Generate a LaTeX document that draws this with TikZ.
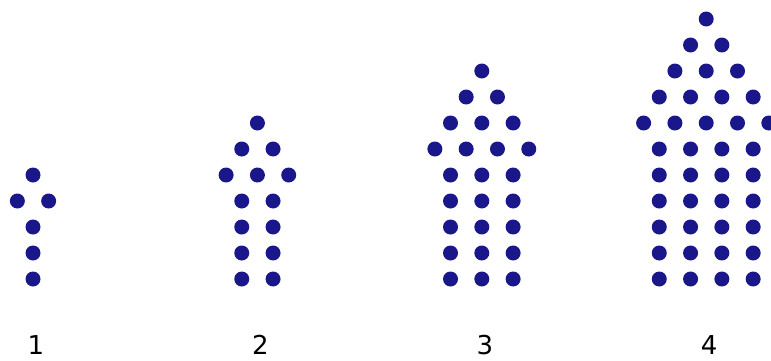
\documentclass[tikz,border=0pt]{standalone}
\usepackage{fontspec}
\setmainfont{DejaVu Sans}
\usetikzlibrary{calc}
\definecolor{dotNavy}{HTML}{1A178A}

\begin{document}
\begin{tikzpicture}[x=1pt, y=-1pt]
        \useasboundingbox (0,0) rectangle (771,360);
        \tikzset{dotfill/.style={fill=dotNavy}, figlabel/.style={anchor=base, inner sep=0pt, font=\fontsize{26}{30}\selectfont}}
        \foreach \n in {1,...,4} {
          \pgfmathsetmacro{\xc}{33+224.4*(\n-1)}
          % stem: n columns, n+2 rows
          \foreach \i in {0,...,\numexpr\n+1\relax} {
            \foreach \j in {1,...,\n} {
              \fill[dotfill] ({\xc+(\j-1-(\n-1)/2)*31.3}, {279-26*\i}) circle (7.5);
            }
          }
          % head: rows of n+1 down to 1
          \foreach \r in {0,...,\n} {
            \pgfmathtruncatemacro{\m}{\n+1-\r}
            \foreach \j in {1,...,\m} {
              \fill[dotfill] ({\xc+(\j-1-(\m-1)/2)*31.3}, {279-26*(\n+2+\r)}) circle (7.5);
            }
          }
          \node[figlabel] (lab\n) at ({\xc+3}, 354) {\n};
        }
      \end{tikzpicture}
\end{document}
